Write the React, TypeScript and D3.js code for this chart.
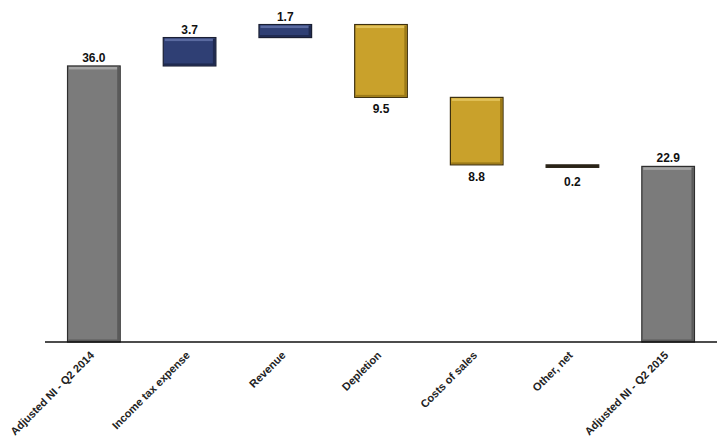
import { useRef, useEffect } from 'react';
import * as d3 from 'd3';

const categories = [
  'Adjusted NI - Q2 2014',
  'Income tax expense',
  'Revenue',
  'Depletion',
  'Costs of sales',
  'Other, net',
  'Adjusted NI - Q2 2015',
];
const deltas = [36.0, 3.7, 1.7, -9.5, -8.8, -0.2, 22.9];
const kinds = ['total', 'up', 'up', 'down', 'down', 'down', 'total'];
const valueLabels = ['36.0', '3.7', '1.7', '9.5', '8.8', '0.2', '22.9'];

const W = 720;
const H = 445;
const BASE_Y = 342;

const COLORS: Record<string, { fill: string; light: string; dark: string; stroke: string }> = {
  total: { fill: '#7b7b7b', light: '#a4a4a4', dark: '#5a5a5a', stroke: '#2e2e2e' },
  up: { fill: '#2f3f74', light: '#5a6aa0', dark: '#1f2a50', stroke: '#1a1f33' },
  down: { fill: '#c9a12b', light: '#e2c25a', dark: '#9c7a18', stroke: '#3d3010' },
};

export default function App() {
  const svgRef = useRef<SVGSVGElement>(null);

  useEffect(() => {
    const svg = d3.select(svgRef.current);
    svg.selectAll('*').remove();

    const x = d3
      .scaleBand<string>()
      .domain(categories)
      .range([46, 716])
      .paddingInner(0.45)
      .paddingOuter(0.225);
    const y = d3.scaleLinear().domain([0, 44.6]).range([BASE_Y, 0]);

    // running totals for the waterfall
    let running = 0;
    const bars = categories.map((c, i) => {
      let lo: number;
      let hi: number;
      if (kinds[i] === 'total') {
        lo = 0;
        hi = deltas[i];
        running = deltas[i];
      } else {
        const start = running;
        running = start + deltas[i];
        lo = Math.min(start, running);
        hi = Math.max(start, running);
      }
      return { c, i, lo, hi, kind: kinds[i] };
    });

    svg.append('rect').attr('width', W).attr('height', H).attr('fill', '#fff');

    bars.forEach((b) => {
      const col = COLORS[b.kind];
      const bx = x(b.c)!;
      const bw = x.bandwidth();
      const top = y(b.hi);
      const rawH = y(b.lo) - y(b.hi);
      const thin = rawH < 5;
      const h = Math.max(rawH, 2.5);
      const g = svg.append('g');
      g.append('rect')
        .attr('x', bx)
        .attr('y', top)
        .attr('width', bw)
        .attr('height', h)
        .attr('fill', thin ? '#2a2418' : col.fill)
        .attr('stroke', thin ? '#2a2418' : col.stroke)
        .attr('stroke-width', 1.2);
      if (!thin) {
        // bevel: light top strip, dark right edge
        g.append('rect')
          .attr('x', bx + 1.5)
          .attr('y', top + 1)
          .attr('width', bw - 3)
          .attr('height', 2.5)
          .attr('fill', col.light);
        g.append('rect')
          .attr('x', bx + bw - 3)
          .attr('y', top + 1)
          .attr('width', 2.3)
          .attr('height', h - 2)
          .attr('fill', col.dark);
        g.append('rect')
          .attr('x', bx + 0.8)
          .attr('y', top + h - 2.5)
          .attr('width', bw - 1.6)
          .attr('height', 1.8)
          .attr('fill', col.dark);
      }

      const above = b.kind !== 'down';
      svg
        .append('text')
        .attr('x', bx + bw / 2)
        .attr('y', above ? top - 4 : y(b.lo) + (thin ? 20 : 16))
        .attr('text-anchor', 'middle')
        .attr('font-family', 'Liberation Sans, Arial, sans-serif')
        .attr('font-weight', 'bold')
        .attr('font-size', 12)
        .attr('fill', '#111')
        .text(valueLabels[b.i]);
    });

    // baseline
    svg
      .append('line')
      .attr('x1', 45)
      .attr('x2', 717)
      .attr('y1', BASE_Y)
      .attr('y2', BASE_Y)
      .attr('stroke', '#111')
      .attr('stroke-width', 1.6);

    // rotated category labels
    categories.forEach((c) => {
      const cx = x(c)! + x.bandwidth() / 2 + 1;
      svg
        .append('text')
        .attr('transform', `translate(${cx},${BASE_Y + 14}) rotate(-45)`)
        .attr('text-anchor', 'end')
        .attr('font-family', 'Liberation Sans, Arial, sans-serif')
        .attr('font-weight', 'bold')
        .attr('font-size', 11)
        .attr('fill', '#222')
        .text(c);
    });
  }, []);

  return (
    <svg
      ref={svgRef}
      width={W}
      height={H}
      style={{ position: 'absolute', left: 0, top: 0 }}
    />
  );
}
